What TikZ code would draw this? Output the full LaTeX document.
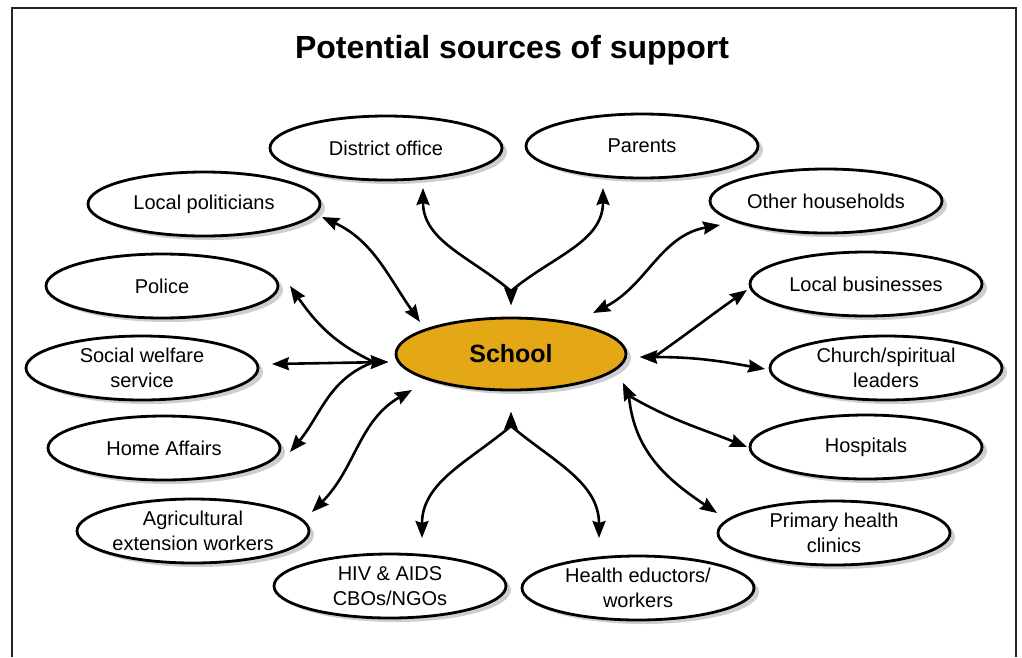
\documentclass[tikz,border=0pt]{standalone}
\usepackage{fontspec}
\setmainfont{Liberation Sans}
\usetikzlibrary{calc,shapes.geometric,shadows,arrows.meta,positioning}
\definecolor{schoolgold}{RGB}{228,168,22}
\definecolor{shadowgrey}{RGB}{205,206,208}
\tikzset{source/.style={ellipse, draw, line width=2.8pt, fill=white, minimum width=232pt, minimum height=64pt, inner sep=0pt, align=center, font=\fontsize{20}{25}\selectfont, drop shadow={shadow xshift=5pt, shadow yshift=-4pt, fill=shadowgrey, opacity=1}},
  hub/.style={source, fill=schoolgold, minimum width=230pt, minimum height=72pt, font=\bfseries\fontsize{25}{30}\selectfont},
  link/.style={line width=2.6pt, {Stealth[length=17pt,width=13pt,inset=2pt]}-{Stealth[length=17pt,width=13pt,inset=2pt]}}}

\begin{document}
\begin{tikzpicture}[x=1pt,y=1pt]
    \useasboundingbox (0,0) rectangle (1022,-657);
    \draw[line width=2.6pt, black!85] (12,-657) |- (1016,-8) -- (1016,-657);
    \node[font=\bfseries\fontsize{32}{38}\selectfont] (title) at (512,-50) {Potential sources of support};

    \node[hub] (school) at (511,-354) {School};
    \node[source] (district) at (386,-148) {District office};
    \node[source] (parents) at (642,-146) {Parents};
    \node[source] (lpol) at (204,-204) {Local politicians};
    \node[source] (others) at (826,-201) {Other households};
    \node[source] (police) at (162,-286) {Police};
    \node[source] (business) at (866,-284) {Local businesses};
    \node[source] (welfare) at (142,-368) {Social welfare\\service};
    \node[source] (church) at (886,-368) {Church/spiritual\\leaders};
    \node[source] (homeaff) at (164,-448) {Home Affairs};
    \node[source] (hospitals) at (866,-447) {Hospitals};
    \node[source] (agri) at (193,-531) {Agricultural\\extension workers};
    \node[source] (clinics) at (834,-533) {Primary health\\clinics};
    \node[source] (hiv) at (390,-586) {HIV \& AIDS\\CBOs/NGOs};
    \node[source] (health) at (638,-588) {Health eductors/\\workers};

    \coordinate (jtop) at ($(school.center)+(0,49)$);
    \coordinate (jleft) at ($(school.center)+(-123,-8)$);
    \coordinate (jright) at ($(school.center)+(129,-3)$);
    \coordinate (jlow) at ($(school.center)+(112,-29)$);
    \coordinate (jbot) at ($(school.center)+(0,-58)$);

    \draw[link] (jtop) -- ++(0,14) to[out=140,in=-90] ($(district.center)+(37,-40)$);
    \draw[link] (jtop) -- ++(0,14) to[out=40,in=-90] ($(parents.center)+(-39,-42)$);
    \draw[link] ($(lpol.center)+(118,-13)$) to[out=-25,in=125] ($(school.center)+(-91,32)$);
    \draw[link] ($(others.center)+(-106,-24)$) to[out=190,in=27] ($(school.center)+(82,41)$);
    \draw[link] (jleft) -- ++(-14,0) to[out=155,in=-55] ($(police.center)+(128,0)$);
    \draw[link] (jleft) -- ($(welfare.center)+(130,4)$);
    \draw[link] (jleft) -- ++(-14,0) to[out=200,in=50] ($(homeaff.center)+(126,-4)$);
    \draw[link] ($(school.center)+(-99,-36)$) to[out=-150,in=45] ($(agri.center)+(119,19)$);
    \draw[link] (jright) -- ++(14,0) to[out=35,in=-145] ($(business.center)+(-119,-6)$);
    \draw[link] (jright) -- ++(14,0) to[out=0,in=170] ($(church.center)+(-121,-1)$);
    \draw[link] (jlow) -- ++(-65:14) to[out=-30,in=158] ($(hospitals.center)+(-119,0)$);
    \draw[link] (jlow) -- ++(-65:14) to[out=-85,in=146] ($(clinics.center)+(-117,20)$);
    \draw[link] (jbot) -- ++(0,-14) to[out=-140,in=90] ($(hiv.center)+(32,48)$);
    \draw[link] (jbot) -- ++(0,-14) to[out=-40,in=90] ($(health.center)+(-39,50)$);
\end{tikzpicture}
\end{document}
